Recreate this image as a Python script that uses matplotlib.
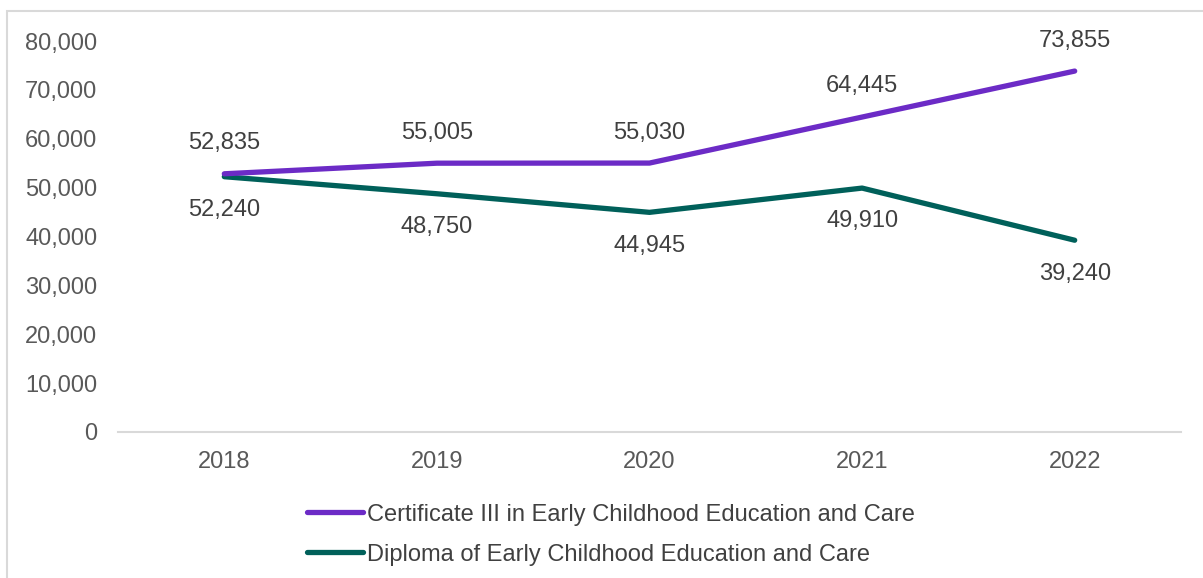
import matplotlib
matplotlib.use("Agg")
import matplotlib.pyplot as plt
from matplotlib.lines import Line2D
from matplotlib.patches import Rectangle

## Data ##

years = ["2018", "2019", "2020", "2021", "2022"]
cert3 = [52835, 55005, 55030, 64445, 73855]
diploma = [52240, 48750, 44945, 49910, 39240]
cert3_name = "Certificate III in Early Childhood Education and Care"
diploma_name = "Diploma of Early Childhood Education and Care"

purple = "#6C2BC6"
teal = "#00605A"
tick_grey = "#595959"

plt.rcParams["font.family"] = ["Liberation Sans", "DejaVu Sans"]
plt.rcParams["font.size"] = 17

fig = plt.figure(figsize=(12.03, 5.78), dpi=100)
ax = fig.add_axes([0.0981, 0.2526, 0.8836, 0.6764])

# light border around chart area
fig.patches.append(Rectangle((7 / 1203, -0.01), 1.02, 1 - 11 / 578 + 0.01,
                             transform=fig.transFigure, fill=False,
                             edgecolor="#D9D9D9", linewidth=1.5))

x = list(range(len(years)))
ax.plot(x, cert3, color=purple, linewidth=3.8, solid_capstyle="round", zorder=3)
ax.plot(x, diploma, color=teal, linewidth=3.8, solid_capstyle="round", zorder=2)

for i in x:
    ax.annotate(f"{cert3[i]:,}", (i, cert3[i]), xytext=(0, 22), textcoords="offset points",
                ha="center", va="center", color="#404040", fontsize=17)
    ax.annotate(f"{diploma[i]:,}", (i, diploma[i]), xytext=(0, -24), textcoords="offset points",
                ha="center", va="center", color="#404040", fontsize=17)

ax.set_xlim(-0.5, len(years) - 0.5)
ax.set_ylim(0, 80000)
ax.set_yticks(range(0, 80001, 10000))
ax.set_yticklabels([f"{v:,}" for v in range(0, 80001, 10000)])
ax.set_xticks(x)
ax.set_xticklabels(years)

for s in ["top", "right", "left"]:
    ax.spines[s].set_visible(False)
ax.spines["bottom"].set_color("#D9D9D9")
ax.spines["bottom"].set_linewidth(1.5)
ax.tick_params(axis="both", length=0, colors=tick_grey, labelsize=17)
ax.tick_params(axis="y", pad=15)
ax.tick_params(axis="x", pad=14)

handles = [Line2D([], [], color=purple, linewidth=3.8, solid_capstyle="round"),
           Line2D([], [], color=teal, linewidth=3.8, solid_capstyle="round")]
fig.legend(handles, [cert3_name, diploma_name], loc="center",
           bbox_to_anchor=(0.508, 0.075), frameon=False, handlelength=2.35,
           handletextpad=0.2, labelspacing=0.77, fontsize=17, labelcolor="#404040")

fig.savefig("out.png", dpi=100)
